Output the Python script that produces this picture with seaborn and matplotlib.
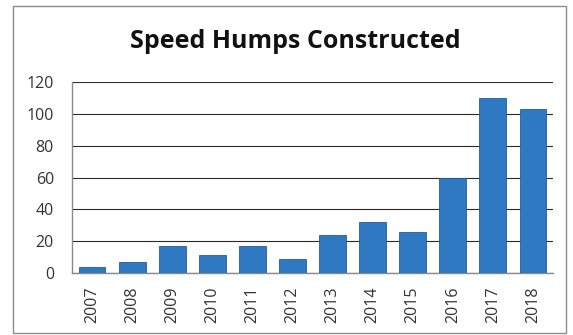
import matplotlib
matplotlib.use("Agg")
import matplotlib.pyplot as plt
import seaborn as sns
import pandas as pd
import numpy as np
from matplotlib.patches import Rectangle

# Datos del gráfico
years = ["2007", "2008", "2009", "2010", "2011", "2012",
         "2013", "2014", "2015", "2016", "2017", "2018"]
humps = [4, 7, 17, 11, 17, 9, 24, 32, 26, 60, 110, 103]
y_ticks = [0, 20, 40, 60, 80, 100, 120]

sns.set_style("white")
plt.rcParams["font.family"] = ["Open Sans", "DejaVu Sans"]

df = pd.DataFrame({"Year": years, "Humps": humps})

W, H = 573, 335
fig = plt.figure(figsize=(W / 100, H / 100), dpi=100)
fig.patch.set_facecolor("white")

# marco exterior del gráfico
fig.patches.append(Rectangle((13 / W, 1 - 333 / H), (566 - 13) / W, (333 - 6) / H,
                             transform=fig.transFigure, fill=False,
                             edgecolor="#8c8c8c", linewidth=1.0))

ax = fig.add_axes([72 / W, (H - 273) / H, (553 - 72) / W, (273 - 82) / H])

sns.barplot(data=df, x="Year", y="Humps", color="#2F78C2", width=0.67,
            edgecolor="#1F5E9E", linewidth=0.6, saturation=1, ax=ax, zorder=3)

ax.set_ylim(0, 120)
ax.set_xlim(-0.5, len(years) - 0.5)
ax.set_yticks(y_ticks)
ax.yaxis.grid(True, color="#2a2a2a", linewidth=0.8)
ax.set_axisbelow(True)

for s in ["top", "right"]:
    ax.spines[s].set_visible(False)
for s in ["left", "bottom"]:
    ax.spines[s].set_color("#8a8a8a")
    ax.spines[s].set_linewidth(1.0)

ax.set_xlabel("")
ax.set_ylabel("")
ax.tick_params(axis="y", which="major", length=4, color="#8a8a8a",
               labelsize=11.5, labelcolor="#333333", pad=9)
ax.tick_params(axis="x", which="major", length=0, labelsize=11.5,
               labelcolor="#333333", pad=10, labelrotation=90)
ax.set_xticks(np.arange(-0.5, len(years) + 0.5, 1), minor=True)
ax.tick_params(axis="x", which="minor", length=5, color="#8a8a8a")

fig.text(295 / W, 1 - 42 / H, "Speed Humps Constructed", ha="center", va="center",
         fontsize=18, fontweight="bold", color="#111111")

fig.savefig("out.png", dpi=100)
